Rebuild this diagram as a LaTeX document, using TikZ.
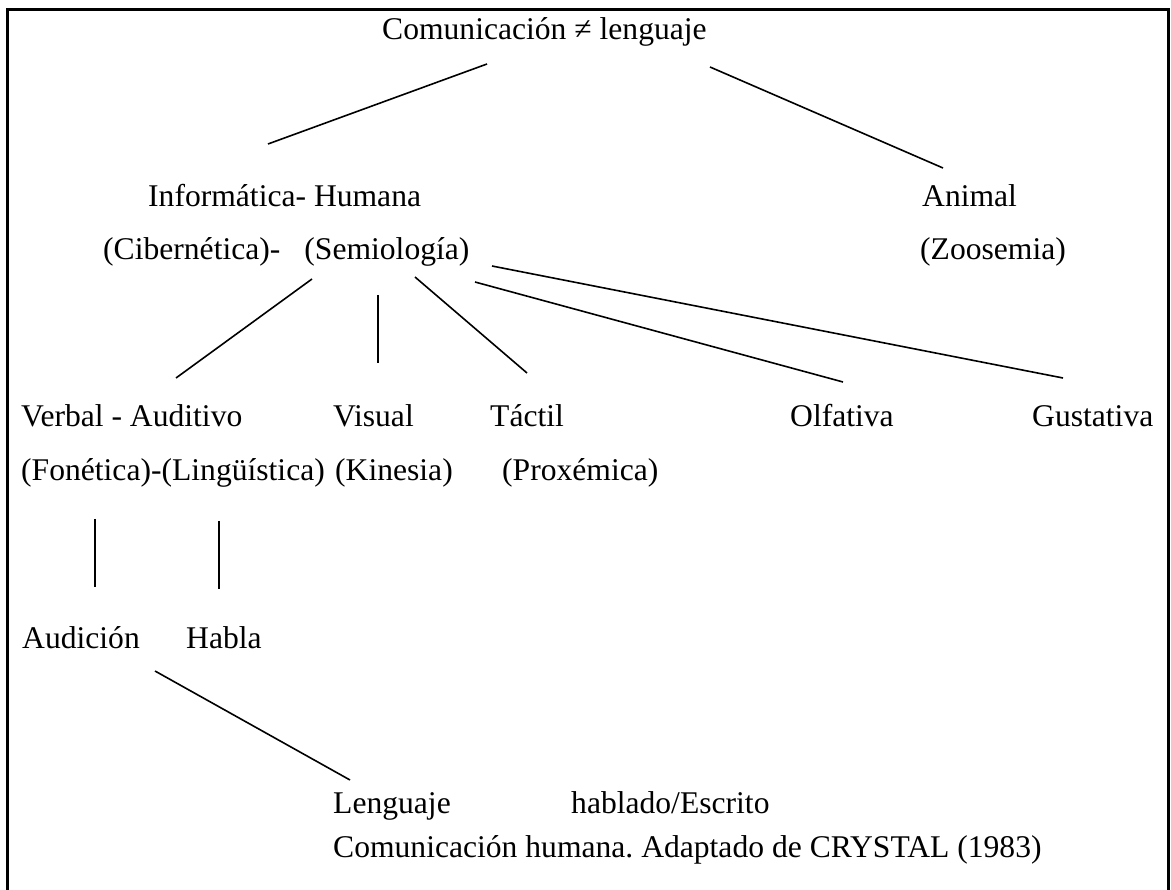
\documentclass[tikz,border=0pt]{standalone}
\usepackage{fontspec}
\setmainfont{Liberation Serif}
\frenchspacing
\begin{document}
\begin{tikzpicture}[x=1pt,y=-1pt,
  lbl/.style={anchor=base west,inner sep=0pt,font=\fontsize{31.6}{38}\selectfont},
  conn/.style={line width=1.6pt},
  frame/.style={line width=3pt}]
\useasboundingbox (0,0) rectangle (1171,890);
\begin{scope}
\clip (0,0) rectangle (1171,890);
\draw[frame] (7,10) -- (1168,10) -- (1168,905) -- (7,905) -- cycle;
\end{scope}
% texts
\node[lbl] (com) at (382,40) {Comunicación ≠ lenguaje};
\node[lbl] (inf) at (148,207) {Informática- Humana};
\node[lbl] (ani) at (922,207) {Animal};
\node[lbl] (cib) at (103,260) {(Cibernética)-\hspace{24pt}(Semiología)};
\node[lbl] (zoo) at (920,260) {(Zoosemia)};
\node[lbl] (ver) at (21,427) {Verbal - Auditivo};
\node[lbl] (vis) at (333,427) {Visual};
\node[lbl] (tac) at (490,427) {Táctil};
\node[lbl] (olf) at (790,427) {Olfativa};
\node[lbl] (gus) at (1032,427) {Gustativa};
\node[lbl] (fon) at (21,481) {(Fonética)-(Lingüística)};
\node[lbl] (kin) at (335,481) {(Kinesia)};
\node[lbl] (pro) at (502,481) {(Proxémica)};
\node[lbl] (aud) at (22,648) {Audición};
\node[lbl] (hab) at (186,648) {Habla};
\node[lbl] (len) at (333,813) {Lenguaje};
\node[lbl] (hes) at (571,813) {hablado/Escrito};
\node[lbl] (cap) at (333,857) {Comunicación humana. Adaptado de CRYSTAL (1983)};
% connector ends
\coordinate (a1) at (487,64);   \coordinate (a2) at (268,144);
\coordinate (b1) at (710,67);   \coordinate (b2) at (943,168);
\coordinate (c1) at (312,279);  \coordinate (c2) at (176,378);
\coordinate (d1) at (378,295);  \coordinate (d2) at (378,363);
\coordinate (e1) at (415,277);  \coordinate (e2) at (527,373);
\coordinate (f1) at (475,282);  \coordinate (f2) at (843,382);
\coordinate (g1) at (492,266);  \coordinate (g2) at (1063,378);
\coordinate (h1) at (95,519);   \coordinate (h2) at (95,587);
\coordinate (i1) at (219,521);  \coordinate (i2) at (219,589);
\coordinate (j1) at (155,671);  \coordinate (j2) at (350,780);
\draw[conn] (a1) -- (a2);
\draw[conn] (b1) -- (b2);
\draw[conn] (c1) -- (c2);
\draw[conn] (d1) -- (d2);
\draw[conn] (e1) -- (e2);
\draw[conn] (f1) -- (f2);
\draw[conn] (g1) -- (g2);
\draw[conn] (h1) -- (h2);
\draw[conn] (i1) -- (i2);
\draw[conn] (j1) -- (j2);
\end{tikzpicture}
\end{document}
